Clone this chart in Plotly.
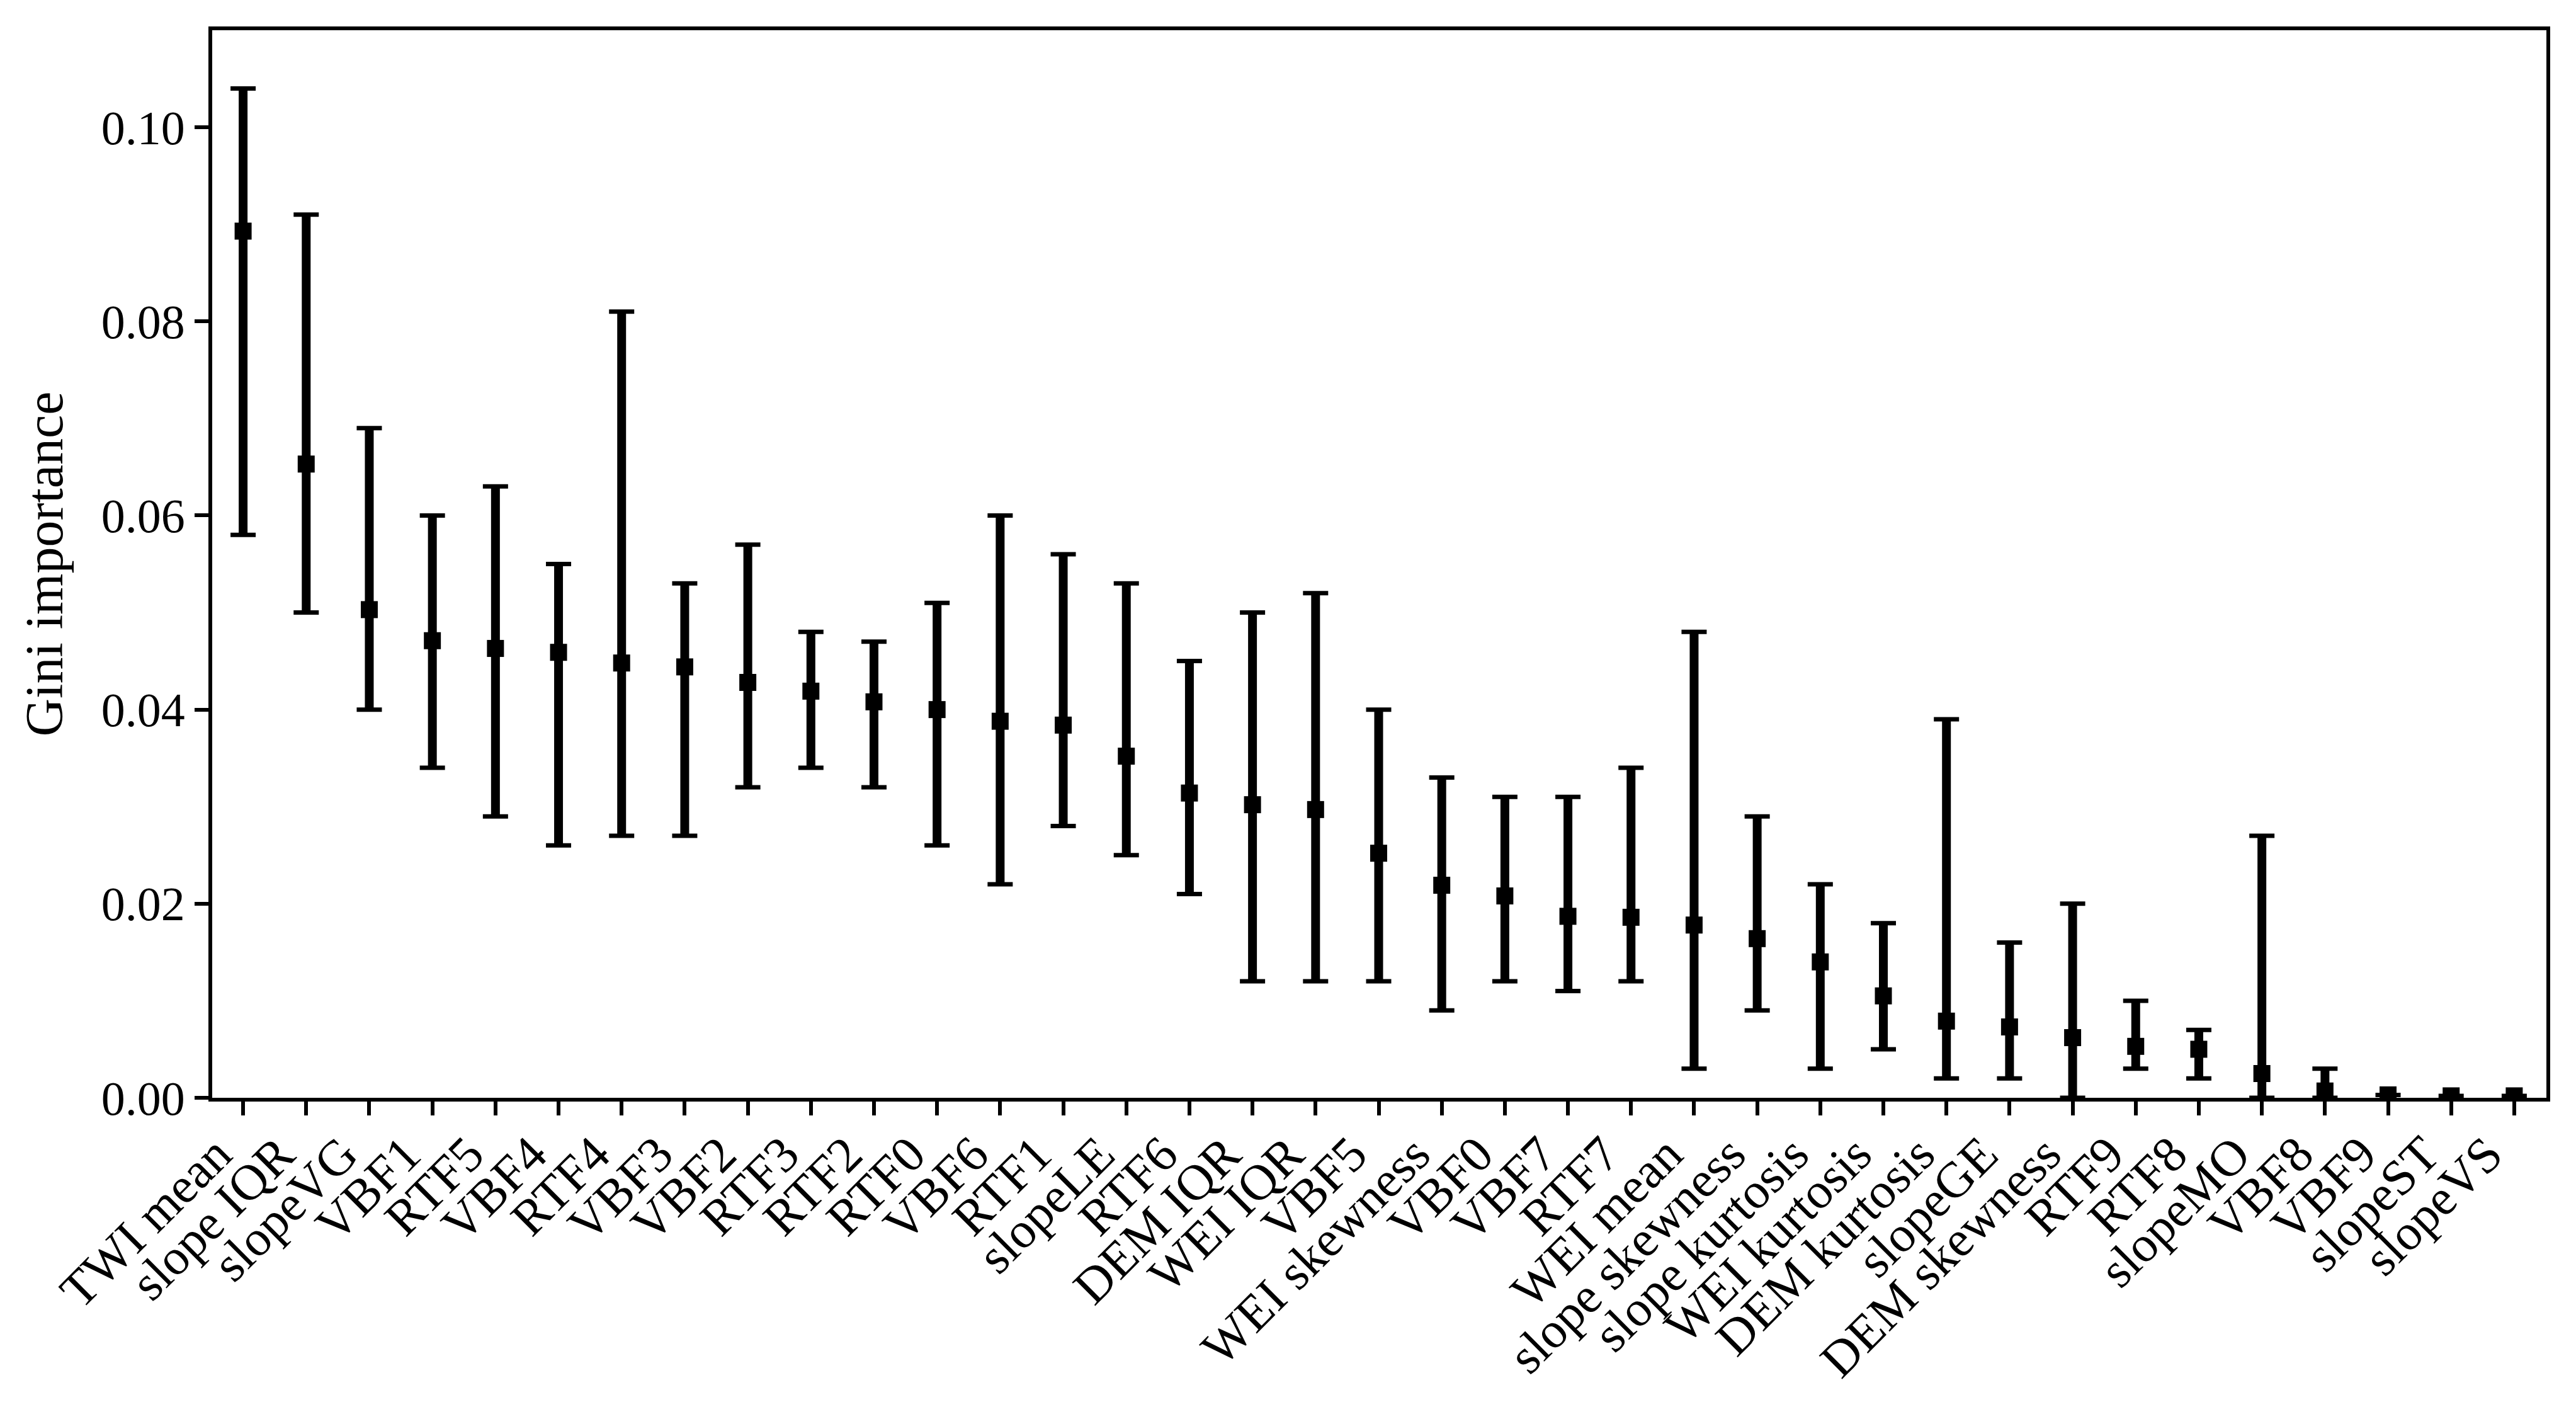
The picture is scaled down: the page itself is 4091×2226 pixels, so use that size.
import plotly.graph_objects as go

features = ["TWI mean", "slope IQR", "slopeVG", "VBF1", "RTF5", "VBF4", "RTF4", "VBF3",
            "VBF2", "RTF3", "RTF2", "RTF0", "VBF6", "RTF1", "slopeLE", "RTF6", "DEM IQR",
            "WEI IQR", "VBF5", "WEI skewness", "VBF0", "VBF7", "RTF7", "WEI mean",
            "slope skewness", "slope kurtosis", "WEI kurtosis", "DEM kurtosis", "slopeGE",
            "DEM skewness", "RTF9", "RTF8", "slopeMO", "VBF8", "VBF9", "slopeST", "slopeVS"]

importance = [0.0893, 0.0653, 0.0503, 0.0471, 0.0463, 0.0459, 0.0448, 0.0444, 0.0428,
              0.0419, 0.0408, 0.0400, 0.0388, 0.0384, 0.0352, 0.0314, 0.0302, 0.0297,
              0.0252, 0.0219, 0.0208, 0.0187, 0.0186, 0.0178, 0.0164, 0.0140, 0.0105,
              0.0079, 0.0073, 0.0062, 0.0053, 0.0050, 0.0025, 0.0007, 0.0003, 0.0002, 0.0002]

upper = [0.104, 0.091, 0.069, 0.060, 0.063, 0.055, 0.081, 0.053, 0.057, 0.048, 0.047,
         0.051, 0.060, 0.056, 0.053, 0.045, 0.050, 0.052, 0.040, 0.033, 0.031, 0.031,
         0.034, 0.048, 0.029, 0.022, 0.018, 0.039, 0.016, 0.020, 0.010, 0.007, 0.027,
         0.003, 0.0003, 0.0002, 0.0002]

lower = [0.058, 0.050, 0.040, 0.034, 0.029, 0.026, 0.027, 0.027, 0.032, 0.034, 0.032,
         0.026, 0.022, 0.028, 0.025, 0.021, 0.012, 0.012, 0.012, 0.009, 0.012, 0.011,
         0.012, 0.003, 0.009, 0.003, 0.005, 0.002, 0.002, 0.000, 0.003, 0.002, 0.000,
         0.000, 0.0003, 0.0002, 0.0002]

y_ticks = [0.00, 0.02, 0.04, 0.06, 0.08, 0.10]

x = list(range(len(features)))
err_plus = [u - m for u, m in zip(upper, importance)]
err_minus = [m - l for m, l in zip(importance, lower)]

FONT = "Liberation Serif"
FS = 76

fig = go.Figure()
# thick vertical error lines (no caps)
fig.add_trace(go.Scatter(
    x=x, y=importance, mode="markers",
    marker=dict(size=1, color="rgba(0,0,0,0)"),
    error_y=dict(type="data", array=err_plus, arrayminus=err_minus,
                 color="black", thickness=14, width=0),
    showlegend=False, hoverinfo="skip"))
# caps + square markers
fig.add_trace(go.Scatter(
    x=x, y=importance, mode="markers",
    marker=dict(symbol="square", size=27, color="black", line=dict(width=0)),
    error_y=dict(type="data", array=err_plus, arrayminus=err_minus,
                 color="black", thickness=7, width=20),
    showlegend=False))

axis_common = dict(showline=True, linecolor="black", linewidth=6, mirror=True,
                   showgrid=False, zeroline=False, ticks="outside", ticklen=22,
                   tickwidth=6, tickcolor="black")

# labels end slightly left of the tick, as with right-aligned rotated labels
tick_text = [name + "\u00a0\u00a0\u00a0" for name in features]

fig.update_layout(
    width=4091, height=2226,
    margin=dict(l=337, r=47, t=48, b=483, autoexpand=False),
    paper_bgcolor="white", plot_bgcolor="white",
    font=dict(family=FONT, size=FS, color="black"),
    xaxis=dict(range=[-0.49, 36.51], tickmode="array", tickvals=x, ticktext=tick_text,
               tickangle=-45, automargin=False, ticklabelstandoff=-60,
               tickfont=dict(family=FONT, size=80, color="black"),
               **axis_common),
    yaxis=dict(range=[0, 0.11], tickmode="array", tickvals=y_ticks,
               ticktext=[f"{v:.2f}" for v in y_ticks], automargin=False,
               ticklabelstandoff=0,
               tickfont=dict(family=FONT, size=FS, color="black"),
               title=dict(text="Gini importance", standoff=35,
                          font=dict(family=FONT, size=84, color="black")),
               **axis_common),
)

fig.write_html("out.html", config={"displayModeBar": False},
               post_script="document.body.style.margin='0';")
